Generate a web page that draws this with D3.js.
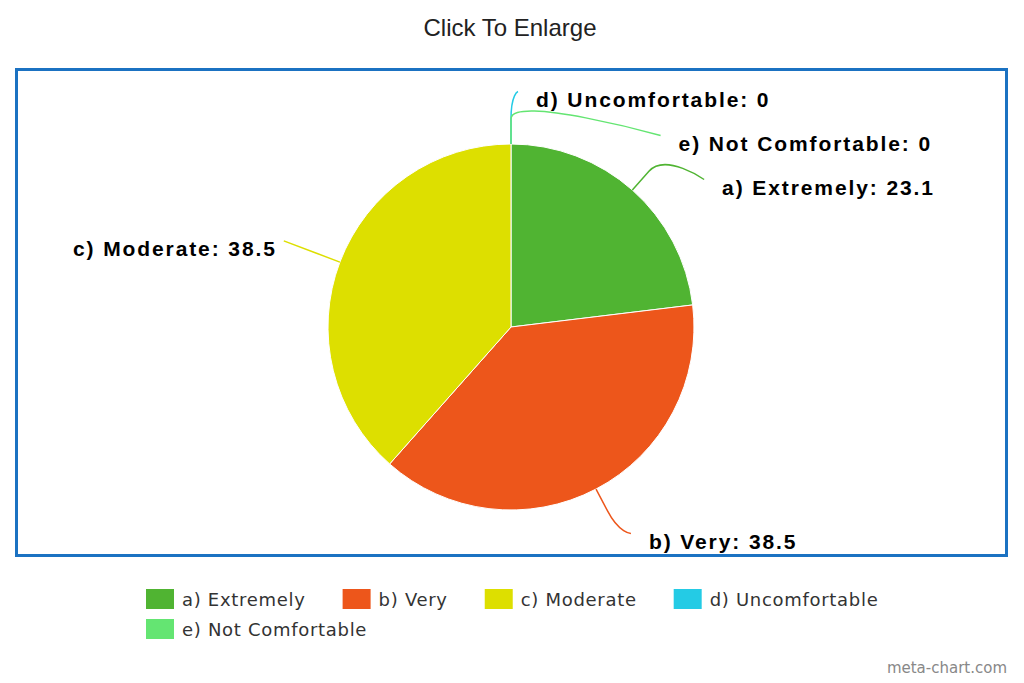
<!DOCTYPE html>
<html>
<head>
<meta charset="utf-8">
<script src="https://cdn.jsdelivr.net/npm/d3@7"></script>
<style>
  body { margin: 0; background: #fff; }
</style>
</head>
<body>
<div id="chart"></div>
<script>
// comfort survey, percentages
const categories = ['a) Extremely', 'b) Very', 'c) Moderate', 'd) Uncomfortable', 'e) Not Comfortable'];
const values = [23.1, 38.5, 38.5, 0, 0];
const colors = ['#50b432', '#ed561b', '#dddf00', '#24cbe5', '#64e572'];
const chartTitle = 'Click To Enlarge';
const credit = 'meta-chart.com';

const width = 1024, height = 683;
const box = { x: 16.5, y: 69.5, w: 990, h: 486 };
const cx = 511, cy = 327, radius = 183;
const labelDist = 60, breakDist = 25, labelGap = 44;

const svg = d3.select('#chart').append('svg')
    .attr('width', width)
    .attr('height', height)
    .style('font-family', '"Liberation Sans", Arial, sans-serif');

svg.append('text')
    .attr('x', width / 2 - 2).attr('y', 36)
    .attr('text-anchor', 'middle')
    .style('font-size', '24px').style('fill', '#222')
    .text(chartTitle);

svg.append('rect')
    .attr('x', box.x).attr('y', box.y)
    .attr('width', box.w).attr('height', box.h)
    .attr('fill', 'none').attr('stroke', '#1b72c2').attr('stroke-width', 3);

const data = categories.map((c, i) => ({ name: c, value: values[i], color: colors[i], i }));
const arcs = d3.pie().sort(null).value(d => d.value)(data);
const arc = d3.arc().innerRadius(0).outerRadius(radius);

const g = svg.append('g').attr('transform', `translate(${cx},${cy})`);

// label layout (roughly the way the original tool does it)
const R = radius + labelDist;
arcs.forEach(a => {
    let mid = (a.startAngle + a.endAngle) / 2;
    mid = mid % (2 * Math.PI);
    a.mid = mid;
    a.right = mid < Math.PI;
    a.edge = [radius * Math.sin(mid), -radius * Math.cos(mid)];
    a.brk = [(radius + breakDist) * Math.sin(mid), -(radius + breakDist) * Math.cos(mid)];
    a.naturalY = -R * Math.cos(mid);
});

const topBound = box.y + 22 - cy;
const bottomBound = box.y + box.h - 22 - cy;
[true, false].forEach(side => {
    const list = arcs.filter(a => a.right === side)
        .sort((p, q) => p.naturalY - q.naturalY || p.data.i - q.data.i);
    let prev = -Infinity;
    list.forEach(a => {
        let y = Math.max(a.naturalY, prev + labelGap);
        a.clamped = false;
        if (y < topBound) { y = topBound; a.clamped = true; }
        if (y > bottomBound) { y = bottomBound; a.clamped = true; }
        a.ly = y;
        prev = y;
        const yForX = a.clamped ? a.naturalY : y;
        const dx = Math.sqrt(Math.max(0, R * R - yForX * yForX));
        // labels pinned to the edges get nudged outward a bit
        const nudge = a.clamped ? 7 : 0;
        a.lx = side ? dx + nudge : -dx - nudge;
    });
});

g.selectAll('path.slice')
    .data(arcs.filter(a => a.value > 0))
    .join('path')
    .attr('class', 'slice')
    .attr('d', arc)
    .attr('fill', d => d.data.color)
    .attr('stroke', '#fff')
    .attr('stroke-width', 1);

g.selectAll('path.connector')
    .data(arcs)
    .join('path')
    .attr('class', 'connector')
    .attr('fill', 'none')
    .attr('stroke', d => d.data.color)
    .attr('stroke-width', 1.5)
    .attr('d', d => {
        const c2 = [2 * d.brk[0] - d.edge[0], 2 * d.brk[1] - d.edge[1]];
        return `M${d.lx},${d.ly}C${d.lx},${d.ly} ${c2[0]},${c2[1]} ${d.brk[0]},${d.brk[1]}L${d.edge[0]},${d.edge[1]}`;
    });

g.selectAll('text.label')
    .data(arcs)
    .join('text')
    .attr('class', 'label')
    .attr('x', d => d.right ? d.lx + 18 : d.lx - 7)
    .attr('y', d => d.ly + 15)
    .attr('text-anchor', d => d.right ? 'start' : 'end')
    .style('font-size', '21px')
    .style('font-weight', 'bold')
    .style('letter-spacing', '1.9px')
    .style('fill', '#000')
    .text(d => `${d.data.name}: ${d.data.value}`);

// legend
const legend = svg.append('g').style('font-family', '"DejaVu Sans", sans-serif');
const items = legend.selectAll('g.item')
    .data(data)
    .join('g')
    .attr('class', 'item');

items.append('rect')
    .attr('width', 28).attr('height', 20)
    .attr('fill', d => d.color);

items.append('text')
    .attr('x', 36).attr('y', 17)
    .style('font-size', '18px')
    .style('letter-spacing', '0.7px')
    .style('fill', '#333')
    .text(d => d.name);

const maxRow = 800, itemGap = 37, rowH = 30;
let rowX = 0, row = 0, boxW = 0;
const placed = [];
items.each(function () {
    const w = 36 + this.querySelector('text').getComputedTextLength();
    if (rowX > 0 && rowX + w > maxRow) { row++; rowX = 0; }
    placed.push([this, rowX, row]);
    boxW = Math.max(boxW, rowX + w);
    rowX += w + itemGap;
});
const legendX = Math.round((width - boxW) / 2);
placed.forEach(([el, x, r]) => {
    d3.select(el).attr('transform', `translate(${legendX + x},${589 + r * rowH})`);
});

svg.append('text')
    .attr('x', 1007).attr('y', 673)
    .attr('text-anchor', 'end')
    .style('font-family', '"DejaVu Sans", sans-serif')
    .style('font-size', '15px')
    .style('fill', '#888')
    .text(credit);
</script>
</body>
</html>
